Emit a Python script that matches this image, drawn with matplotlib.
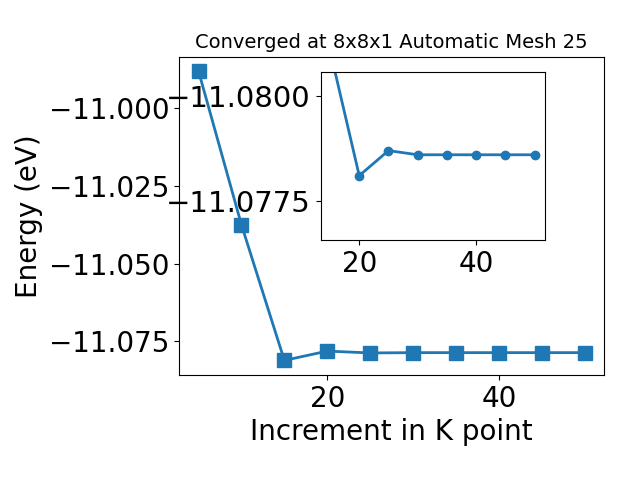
import matplotlib
matplotlib.use("Agg")
import matplotlib.pyplot as plt

# k-point increments and converged total energies (eV)
kpoints = [5, 10, 15, 20, 25, 30, 35, 40, 45, 50]
energy = [-10.9881, -11.0375, -11.0811, -11.0781, -11.0787, -11.0786,
          -11.0786, -11.0786, -11.0786, -11.0786]

fig = plt.figure(figsize=(6.4, 4.8), dpi=100)
ax = fig.add_axes([0.280, 0.219, 0.664, 0.663])
ax.plot(kpoints, energy, marker='s', markersize=10, linewidth=2)
ax.set_xticks([20, 40])
ax.set_xlabel("Increment in K point", fontsize=20)
ax.set_ylabel("Energy (eV)", fontsize=20)
ax.set_title("Converged at 8x8x1 Automatic Mesh 25", fontsize=14)
ax.tick_params(labelsize=20)

# zoomed inset (from 15 onward)
ins = fig.add_axes([0.501, 0.500, 0.350, 0.349])
ins.plot(kpoints[2:], energy[2:], marker='o', markersize=6, linewidth=2)
ins.set_xlim(13.4, 51.7)
ins.set_ylim(-11.07656, -11.08057)
ins.set_yticks([-11.0800, -11.0775])
ins.set_xticks([20, 40])
ins.ticklabel_format(useOffset=False, axis='y')
ins.tick_params(axis='x', labelsize=20)
ins.tick_params(axis='y', labelsize=21)

fig.savefig("out.png", dpi=100)
